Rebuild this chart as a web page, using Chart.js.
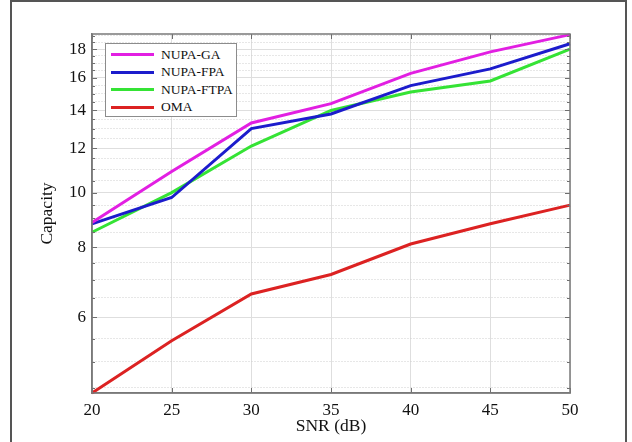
<!DOCTYPE html>
<html>
<head>
<meta charset="utf-8">
<script src="https://cdn.jsdelivr.net/npm/chart.js@4"></script>
<style>
  html, body { margin: 0; padding: 0; background: #fff; }
  #wrap { position: relative; width: 632px; height: 442px; overflow: hidden; }
  #frame { position: absolute; left: 10px; top: 0; width: 617px; height: 460px;
           border: 2px solid #555; box-sizing: border-box; }
  #lg { position: absolute; left: 105px; top: 43px; width: 132px; height: 74px;
        border: 1px solid #8c8c8c; background: #fff; box-sizing: border-box;
        font-family: "Liberation Serif", "Times New Roman", serif; font-size: 13.5px; color: #111;
        padding-top: 2px; }
  #lg .row { display: flex; align-items: center; height: 17.5px; }
  #lg .ln { width: 43px; height: 3px; margin: 0 7px 0 5px; }
</style>
</head>
<body>
<div id="wrap">
  <canvas id="cap" width="632" height="442"></canvas>
  <div id="frame"></div>
  <div id="lg"></div>
</div>
<script>
// SNR (dB)
const snr = [20, 25, 30, 35, 40, 45, 50];
// capacity
const nupaGA   = [8.85, 10.9, 13.3, 14.4, 16.3, 17.8, 19.1];
const nupaFPA  = [8.8, 9.8, 13.0, 13.8, 15.5, 16.6, 18.4];
const nupaFTPA = [8.5, 10.0, 12.1, 14.0, 15.1, 15.8, 18.0];
const oma      = [4.4, 5.45, 6.6, 7.15, 8.1, 8.8, 9.5];

const yLabels = [6, 8, 10, 12, 14, 16, 18];
const yMinor  = [4.5, 5, 5.5, 6, 6.5, 7, 7.5, 8, 8.5, 9, 9.5, 10, 10.5, 11, 11.5, 12, 12.5, 13, 13.5,
                 14, 14.5, 15, 15.5, 16, 16.5, 17, 17.5, 18, 18.5, 19];
const xTicks  = [20, 25, 30, 35, 40, 45, 50];

const FONT = '"Liberation Serif", "Times New Roman", serif';

// box round plot + inward tick marks
const boxPlugin = {
  id: 'box',
  afterDatasetsDraw(chart) {
    const { ctx, chartArea: a, scales: { x, y } } = chart;
    ctx.save();
    ctx.strokeStyle = '#6e6e6e';
    ctx.lineWidth = 1;
    ctx.beginPath();
    yMinor.forEach(v => {
      const py = Math.round(y.getPixelForValue(v)) + 0.5;
      if (py < a.top || py > a.bottom) return;
      const len = yLabels.includes(v) ? 5 : 3;
      ctx.moveTo(a.left, py); ctx.lineTo(a.left + len, py);
      ctx.moveTo(a.right, py); ctx.lineTo(a.right - len, py);
    });
    xTicks.forEach(v => {
      const px = Math.round(x.getPixelForValue(v)) + 0.5;
      ctx.moveTo(px, a.bottom); ctx.lineTo(px, a.bottom - 5);
      ctx.moveTo(px, a.top); ctx.lineTo(px, a.top + 5);
    });
    ctx.stroke();
    ctx.strokeStyle = '#7a7a7a';
    ctx.lineWidth = 1.5;
    ctx.strokeRect(a.left, a.top, a.right - a.left, a.bottom - a.top);
    ctx.restore();
  }
};

const chart = new Chart(document.getElementById('cap'), {
  type: 'line',
  data: {
    datasets: [
      { label: 'NUPA-GA',   data: snr.map((s, i) => ({ x: s, y: nupaGA[i] })),   borderColor: '#e21fe2' },
      { label: 'NUPA-FPA',  data: snr.map((s, i) => ({ x: s, y: nupaFPA[i] })),  borderColor: '#1c1ccc' },
      { label: 'NUPA-FTPA', data: snr.map((s, i) => ({ x: s, y: nupaFTPA[i] })), borderColor: '#35e335' },
      { label: 'OMA',       data: snr.map((s, i) => ({ x: s, y: oma[i] })),      borderColor: '#dc2222' }
    ].map(d => Object.assign(d, { borderWidth: 3, pointRadius: 0, tension: 0, fill: false, clip: 4 }))
  },
  options: {
    responsive: false,
    animation: false,
    layout: { padding: { left: 37, right: 62, top: 34, bottom: 5.5 } },
    plugins: { legend: { display: false }, tooltip: { enabled: false } },
    scales: {
      x: {
        type: 'linear', min: 20, max: 50,
        afterBuildTicks: s => { s.ticks = xTicks.map(v => ({ value: v })); },
        afterFit: s => { s.height = 43.5; },
        grid: { color: '#dedede', lineWidth: 1, drawTicks: false },
        border: { color: '#7a7a7a', width: 1.5 },
        ticks: { color: '#111', font: { family: FONT, size: 17 }, padding: 7, autoSkip: false, maxRotation: 0 },
        title: { display: true, text: 'SNR (dB)', color: '#111', font: { family: FONT, size: 17.5 }, padding: { top: 0, bottom: 0 } }
      },
      y: {
        type: 'logarithmic', min: 4.4, max: 19.15,
        afterBuildTicks: s => { s.ticks = yMinor.map(v => ({ value: v, major: yLabels.includes(v) })); },
        afterFit: s => { s.width = 55; },
        grid: {
          drawTicks: false,
          color: c => (c.tick && yLabels.includes(c.tick.value)) ? '#dedede' : '#cfcfcf'
        },
        border: {
          color: '#7a7a7a', width: 1.5,
          dash: c => (c.tick && yLabels.includes(c.tick.value)) ? [] : [1, 2]
        },
        ticks: {
          color: '#111', font: { family: FONT, size: 17 }, padding: 6, autoSkip: false,
          callback: v => yLabels.includes(v) ? String(v) : ''
        },
        title: { display: true, text: 'Capacity', color: '#111', font: { family: FONT, size: 17.5 }, padding: 0 }
      }
    }
  },
  plugins: [boxPlugin]
});

// legend box inside the plot, built from the datasets
const lg = document.getElementById('lg');
chart.data.datasets.forEach(d => {
  const row = document.createElement('div');
  row.className = 'row';
  row.innerHTML = '<span class="ln" style="background:' + d.borderColor + '"></span><span>' + d.label + '</span>';
  lg.appendChild(row);
});
</script>
</body>
</html>
